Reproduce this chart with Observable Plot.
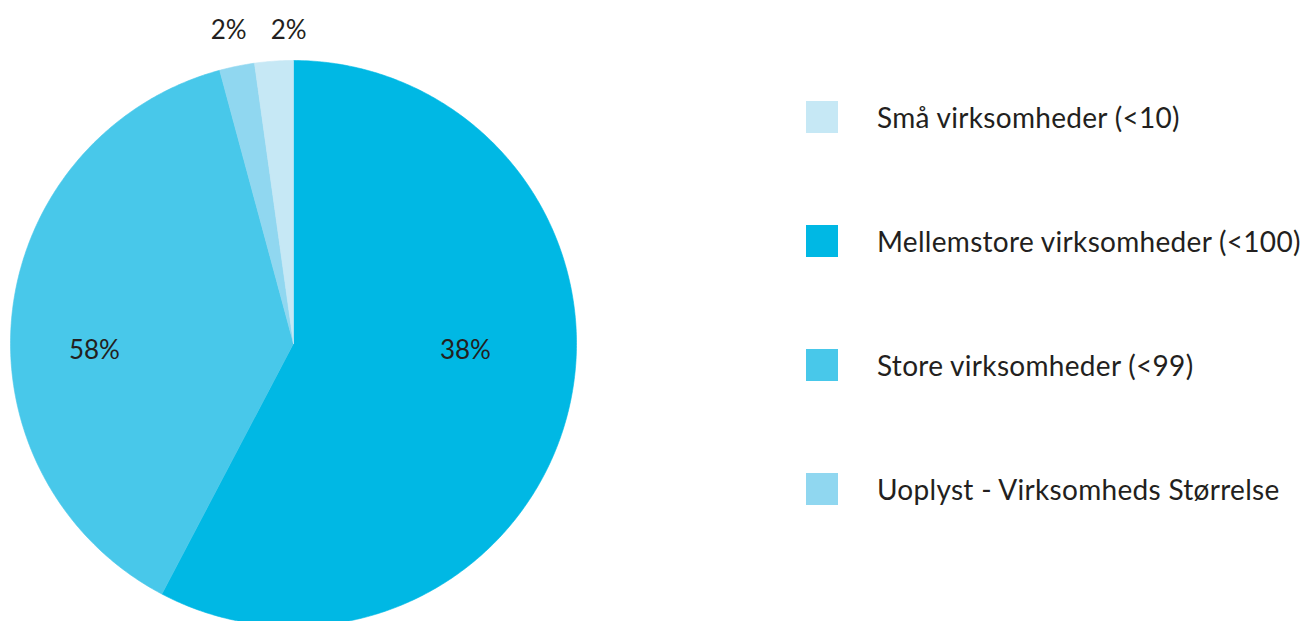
<!DOCTYPE html>
<html>
<head>
<meta charset="utf-8">
<script src="https://cdn.jsdelivr.net/npm/d3@7"></script>
<script src="https://cdn.jsdelivr.net/npm/@observablehq/plot@0.6"></script>
<style>
  html, body { margin: 0; padding: 0; background: #fff; }
  #wrap { position: relative; width: 1305px; height: 621px; overflow: hidden; font-family: Lato, "Open Sans", sans-serif; }
  #chart { position: absolute; left: 0; top: 0; }
  #legend { position: absolute; left: 806px; top: 101px; }
  .row { display: flex; align-items: center; height: 32px; margin-bottom: 92px; }
  .sw { width: 32px; height: 32px; margin-right: 39px; flex: none; }
  .lb { font-size: 28px; letter-spacing: 0.3px; color: #231f20; white-space: nowrap; }
</style>
</head>
<body>
<div id="wrap">
  <div id="chart"></div>
  <div id="legend"></div>
</div>
<script>
// ---- data ----
const categories = ["Små virksomheder (<10)", "Mellemstore virksomheder (<100)", "Store virksomheder (<99)", "Uoplyst - Virksomheds Størrelse"];
const shares = [2.2, 57.7, 38.1, 2.0];
const labels = ["2%", "38%", "58%", "2%"];
const colors = ["#c6e8f5", "#00b8e4", "#48c8ea", "#90d7f0"];

// ---- layout (not data) ----
const drawOrder = [1, 2, 3, 0];            // clockwise from 12 o'clock
const labelPlace = [                        // polar placement of each label (degrees clockwise from top, radius in units of R)
  {a: 359.1, r: 1.106},
  {a: 92.3, r: 0.608},
  {a: 268.0, r: 0.704},
  {a: 348.3, r: 1.13}
];

const rows = categories.map((c, i) => ({cat: c, value: shares[i], label: labels[i], color: colors[i]}));
const ordered = drawOrder.map(i => rows[i]);
const arcs = d3.pie().sort(null).value(d => d.value).startAngle(0).endAngle(2 * Math.PI)(ordered);

const pts = [];
for (const a of arcs) {
  const n = Math.max(4, Math.ceil((a.endAngle - a.startAngle) / 0.01));
  pts.push({cat: a.data.cat, x: 0, y: 0});
  for (let k = 0; k <= n; k++) {
    const t = a.startAngle + (a.endAngle - a.startAngle) * k / n;
    pts.push({cat: a.data.cat, x: Math.sin(t), y: Math.cos(t)});
  }
  pts.push({cat: a.data.cat, x: 0, y: 0});
}

const labelData = rows.map((d, i) => {
  const t = labelPlace[i].a * Math.PI / 180;
  return {label: d.label, x: labelPlace[i].r * Math.sin(t), y: labelPlace[i].r * Math.cos(t)};
});

const plot = Plot.plot({
  width: 760,
  height: 621,
  margin: 0,
  x: {domain: [-1, 1], range: [10, 576], axis: null},
  y: {domain: [-1, 1], range: [626, 60], axis: null},
  color: {domain: categories, range: colors},
  style: {fontFamily: "Lato, 'Open Sans', sans-serif", overflow: "visible"},
  marks: [
    Plot.line(pts, {x: "x", y: "y", z: "cat", fill: "cat", stroke: "cat", strokeWidth: 0.6, curve: "linear"}),
    Plot.text(labelData, {x: "x", y: "y", text: "label", fontSize: 26, fill: "#231f20"})
  ]
});
document.getElementById("chart").appendChild(plot);

const legend = document.getElementById("legend");
rows.forEach(d => {
  const r = document.createElement("div");
  r.className = "row";
  r.innerHTML = `<div class="sw" style="background:${d.color}"></div><div class="lb"></div>`;
  r.querySelector(".lb").textContent = d.cat;
  legend.appendChild(r);
});
</script>
</body>
</html>
